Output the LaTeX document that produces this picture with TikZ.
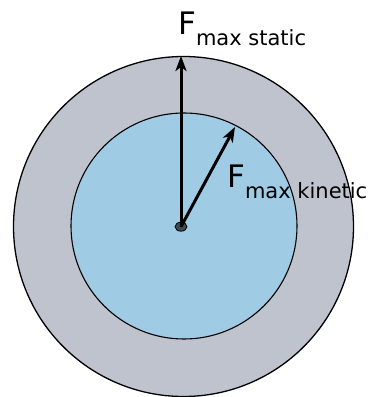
\documentclass[tikz,border=0pt]{standalone}
\usepackage{fontspec}
\setmainfont{DejaVu Sans}
\usetikzlibrary{arrows.meta,shapes.geometric}
\definecolor{outergray}{RGB}{190,195,206}
\definecolor{innerblue}{RGB}{160,203,229}
\definecolor{dotgray}{RGB}{60,74,84}
\tikzset{
  force/.style={line width=3pt, -{Stealth[length=15pt,width=11pt,inset=4pt]}},
  lbl/.style={anchor=base west, inner sep=0pt},
}
\newcommand{\forcelabel}[1]{{\fontsize{31}{31}\selectfont F\raisebox{-11pt}{\fontsize{21}{21}\selectfont #1}}}
\begin{document}
\begin{tikzpicture}[x=1pt,y=1pt]
\useasboundingbox (0,0) rectangle (371,397);
\fill[white] (0,0) rectangle (371,397);
\filldraw[fill=outergray, draw=black, line width=1.3pt] (183.5,170.5) circle (170);
\filldraw[fill=innerblue, draw=black, line width=1.1pt] (184,171) circle (113);
\node[ellipse, fill=dotgray, draw=black, line width=0.8pt, minimum width=12pt, minimum height=9pt, inner sep=0pt] (dot) at (181,170.3) {};
\coordinate (tipS) at (181,341);
\coordinate (tipK) at (235,270);
\draw[force] (dot.center) -- (tipS);
\draw[force] (dot.center) -- (tipK);
\node[lbl] (ls) at (178,362) {\forcelabel{max static}};
\node[lbl] (lk) at (227,209) {\forcelabel{max kinetic}};
\end{tikzpicture}
\end{document}
